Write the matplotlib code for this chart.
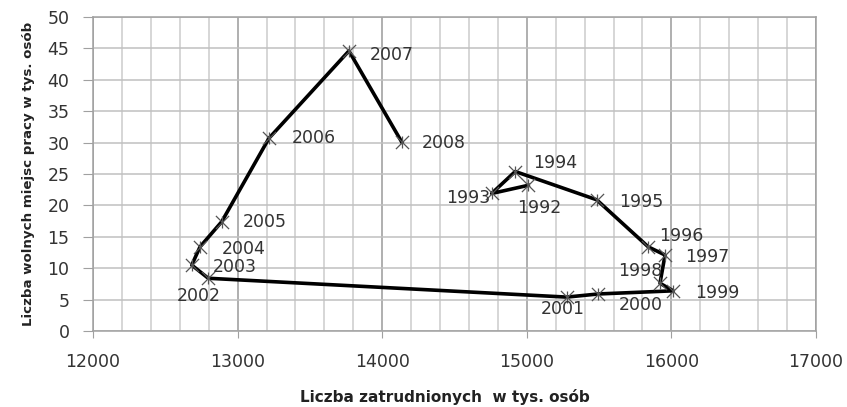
import matplotlib
matplotlib.use("Agg")
import matplotlib.pyplot as plt
from matplotlib.ticker import MultipleLocator

# dane (lata 1992-2008)
lata = ['1992', '1993', '1994', '1995', '1996', '1997', '1998', '1999', '2000',
        '2001', '2002', '2003', '2004', '2005', '2006', '2007', '2008']
zatrudnieni = [15010, 14757, 14920, 15483, 15840, 15956, 15921, 16013, 15495,
               15276, 12797, 12683, 12740, 12890, 13217, 13770, 14135]
wolne_miejsca = [23.2, 21.9, 25.4, 20.9, 13.4, 12.1, 7.6, 6.4, 5.9,
                 5.4, 8.4, 10.5, 13.4, 17.4, 30.7, 44.6, 30.1]

# przesuniecia etykiet w pikselach (dx, dy, wyrownanie)
etykiety_off = {
    '1992': (-11, -23, 'left'), '1993': (-1, -5, 'right'), '1994': (18, 9, 'left'),
    '1995': (22, -2, 'left'), '1996': (11, 11, 'left'), '1997': (20, -2, 'left'),
    '1998': (2, 12, 'right'), '1999': (22, -2, 'left'), '2000': (20, -11, 'left'),
    '2001': (-4, -12, 'center'), '2002': (-9, -18, 'center'), '2003': (21, -2, 'left'),
    '2004': (22, -2, 'left'), '2005': (21, 0, 'left'), '2006': (23, 0, 'left'),
    '2007': (21, -4, 'left'), '2008': (20, -1, 'left'),
}

fig = plt.figure(figsize=(8.47, 4.07), dpi=100)
ax = fig.add_axes([0.1098, 0.1867, 0.8536, 0.7715])

ax.plot(zatrudnieni, wolne_miejsca, color='black', lw=2.6, zorder=3)
ax.scatter(zatrudnieni, wolne_miejsca, marker='x', s=90, c='#555555', lw=0.9, zorder=4)
ax.scatter(zatrudnieni, wolne_miejsca, marker='|', s=70, c='#555555', lw=0.9, zorder=4)

for rok, xv, yv in zip(lata, zatrudnieni, wolne_miejsca):
    dx, dy, ha = etykiety_off[rok]
    ax.annotate(rok, (xv, yv), xytext=(dx, dy), textcoords='offset pixels',
                ha=ha, va='center', fontsize=12.5, color='#333333', zorder=5)

ax.set_xlim(12000, 17000)
ax.set_ylim(0, 50)
ax.xaxis.set_major_locator(MultipleLocator(1000))
ax.xaxis.set_minor_locator(MultipleLocator(200))
ax.yaxis.set_major_locator(MultipleLocator(5))

ax.grid(True, which='minor', axis='x', color='#cccccc', lw=1.1)
ax.grid(True, which='major', axis='x', color='#9a9a9a', lw=1.1)
ax.grid(True, which='major', axis='y', color='#c0c0c0', lw=1.1)
ax.set_axisbelow(True)

for s in ax.spines.values():
    s.set_color('#a0a0a0')
    s.set_linewidth(1.1)

ax.tick_params(axis='x', which='major', length=5, color='#a0a0a0', pad=11,
               labelsize=12.5, labelcolor='#333333')
ax.tick_params(axis='x', which='minor', length=0)
ax.tick_params(axis='y', length=7, color='#a0a0a0', pad=10,
               labelsize=12.5, labelcolor='#333333')

ax.set_xlabel('Liczba zatrudnionych  w tys. osób', fontsize=11, fontweight='bold',
              color='#222222', labelpad=13)
ax.xaxis.label.set_x(0.487)
ax.set_ylabel('Liczba wolnych miejsc pracy w tys. osób', fontsize=9.6, fontweight='bold',
              color='#222222', labelpad=9)

fig.savefig('out.png', dpi=100)
